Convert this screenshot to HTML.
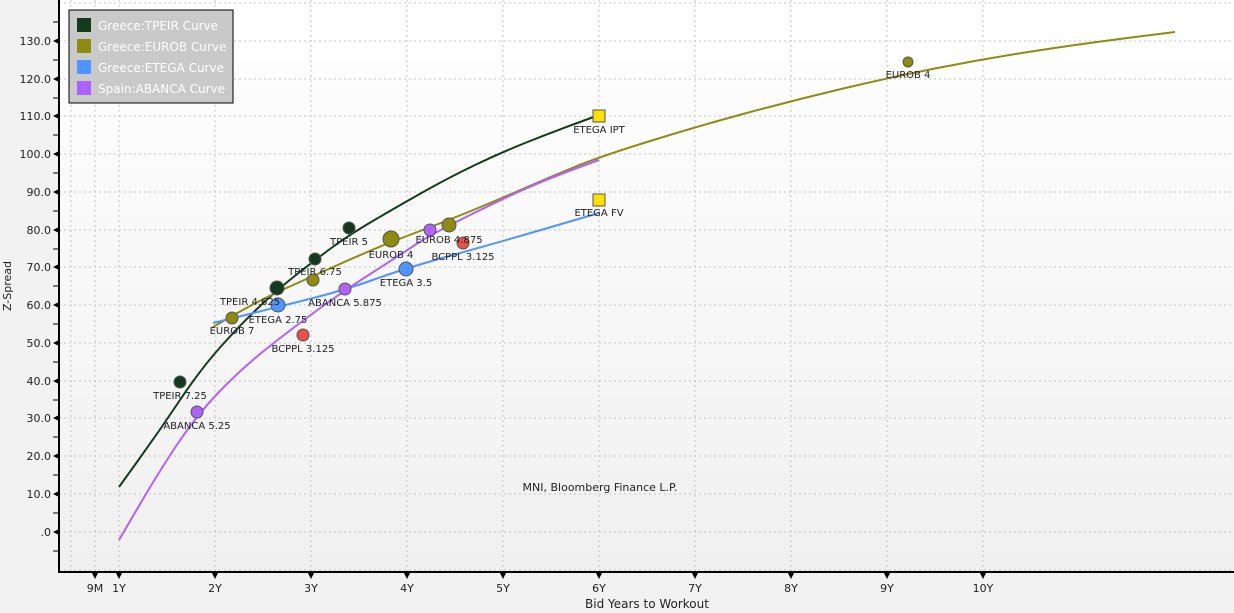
<!DOCTYPE html><html><head><style>body{margin:0;background:#f2f2f2}svg{display:block;font-family:"DejaVu Sans","Liberation Sans",sans-serif}</style></head><body>
<svg width="1234" height="613" viewBox="0 0 1234 613">
<defs><linearGradient id="g" x1="0" y1="0" x2="0" y2="1"><stop offset="0" stop-color="#ffffff"/><stop offset="1" stop-color="#f0f0f0"/></linearGradient></defs>
<rect width="1234" height="613" fill="#f2f2f2"/>
<rect x="59" y="0" width="1175" height="572" fill="url(#g)"/>
<g stroke="#c4c4c4" stroke-dasharray="2,3" stroke-width="1">
<line x1="59" y1="3" x2="1234" y2="3"/>
<line x1="59" y1="41" x2="1234" y2="41"/><line x1="59" y1="79" x2="1234" y2="79"/><line x1="59" y1="116" x2="1234" y2="116"/><line x1="59" y1="154" x2="1234" y2="154"/><line x1="59" y1="192" x2="1234" y2="192"/><line x1="59" y1="230" x2="1234" y2="230"/><line x1="59" y1="267" x2="1234" y2="267"/><line x1="59" y1="305" x2="1234" y2="305"/><line x1="59" y1="343" x2="1234" y2="343"/><line x1="59" y1="381" x2="1234" y2="381"/><line x1="59" y1="418" x2="1234" y2="418"/><line x1="59" y1="456" x2="1234" y2="456"/><line x1="59" y1="494" x2="1234" y2="494"/><line x1="59" y1="532" x2="1234" y2="532"/><line x1="59" y1="570" x2="1234" y2="570"/>
<line x1="71" y1="0" x2="71" y2="572"/><line x1="95" y1="0" x2="95" y2="572"/><line x1="119" y1="0" x2="119" y2="572"/><line x1="215" y1="0" x2="215" y2="572"/><line x1="311" y1="0" x2="311" y2="572"/><line x1="407" y1="0" x2="407" y2="572"/><line x1="503" y1="0" x2="503" y2="572"/><line x1="599" y1="0" x2="599" y2="572"/><line x1="695" y1="0" x2="695" y2="572"/><line x1="791" y1="0" x2="791" y2="572"/><line x1="887" y1="0" x2="887" y2="572"/><line x1="983" y1="0" x2="983" y2="572"/>
</g>
<g stroke="#000" stroke-width="2"><line x1="59" y1="0" x2="59" y2="573"/><line x1="58" y1="572" x2="1234" y2="572"/></g>
<g stroke="#000" stroke-width="1">
<line x1="53" y1="22" x2="59" y2="22"/><line x1="53" y1="60" x2="59" y2="60"/><line x1="53" y1="98" x2="59" y2="98"/><line x1="53" y1="135" x2="59" y2="135"/><line x1="53" y1="173" x2="59" y2="173"/><line x1="53" y1="211" x2="59" y2="211"/><line x1="53" y1="249" x2="59" y2="249"/><line x1="53" y1="286" x2="59" y2="286"/><line x1="53" y1="324" x2="59" y2="324"/><line x1="53" y1="362" x2="59" y2="362"/><line x1="53" y1="400" x2="59" y2="400"/><line x1="53" y1="437" x2="59" y2="437"/><line x1="53" y1="475" x2="59" y2="475"/><line x1="53" y1="513" x2="59" y2="513"/><line x1="53" y1="551" x2="59" y2="551"/>
</g>
<g fill="#000">
<path d="M53 41l6-3v6zM53 79l6-3v6zM53 116l6-3v6zM53 154l6-3v6zM53 192l6-3v6zM53 230l6-3v6zM53 267l6-3v6zM53 305l6-3v6zM53 343l6-3v6zM53 381l6-3v6zM53 418l6-3v6zM53 456l6-3v6zM53 494l6-3v6zM53 532l6-3v6z"/>
<path d="M95 579l-3-6h6zM119 579l-3-6h6zM215 579l-3-6h6zM311 579l-3-6h6zM407 579l-3-6h6zM503 579l-3-6h6zM599 579l-3-6h6zM695 579l-3-6h6zM791 579l-3-6h6zM887 579l-3-6h6zM983 579l-3-6h6z"/>
</g>
<g font-size="11" fill="#222" text-anchor="end">
<text x="51" y="45">130.0</text><text x="51" y="83">120.0</text><text x="51" y="120">110.0</text><text x="51" y="158">100.0</text><text x="51" y="196">90.0</text><text x="51" y="234">80.0</text><text x="51" y="271">70.0</text><text x="51" y="309">60.0</text><text x="51" y="347">50.0</text><text x="51" y="385">40.0</text><text x="51" y="422">30.0</text><text x="51" y="460">20.0</text><text x="51" y="498">10.0</text><text x="51" y="536">.0</text>
</g>
<g font-size="11" fill="#222" text-anchor="middle">
<text x="95" y="592">9M</text><text x="119" y="592">1Y</text><text x="215" y="592">2Y</text><text x="311" y="592">3Y</text><text x="407" y="592">4Y</text><text x="503" y="592">5Y</text><text x="599" y="592">6Y</text><text x="695" y="592">7Y</text><text x="791" y="592">8Y</text><text x="887" y="592">9Y</text><text x="983" y="592">10Y</text>
<text x="647" y="608" font-size="12">Bid Years to Workout</text>
<text x="600" y="491">MNI, Bloomberg Finance L.P.</text>
<text transform="translate(11,286) rotate(-90)" font-size="11">Z-Spread</text>
</g>
<g fill="none" stroke-width="2" stroke-linejoin="round">
<path stroke="#143a1e" d="M119,487 L139.5,458.5 Q160,430 180,400 Q200,370 220,347.5 Q240,325 258.5,307.5 Q277,290 296,275 Q315,260 332,247.5 Q349,235 374.5,220 Q400,205 425,191 Q450,177 475,165 Q500,153 525,143 Q550,133 574.5,124 L599,115"/>
<path stroke="#8f8a10" d="M213,327 L236.5,313.5 Q260,300 286.5,288 Q313,276 336.5,265.5 Q360,255 375.5,248.5 Q391,242 420,231 Q449,220 474.5,209.5 Q500,199 525,188 Q550,177 574.5,167 Q599,157 647,142 Q695,127 743,114 Q791,101 839,89.5 Q887,78 935,68.5 Q983,59 1031.5,51.5 Q1080,44 1127.5,38 L1175,32"/>
<path stroke="#4f94ff" d="M213,323 L245.5,315 Q278,307 311.5,298.5 Q345,290 375.5,279 Q406,268 453,255 Q500,242 549.5,227.5 L599,213"/>
<path stroke="#b062ff" d="M119,540 L139.5,505 Q160,470 178.5,442.5 Q197,415 218.5,392.5 Q240,370 265,350 Q290,330 317.5,310 Q345,290 372.5,272.5 Q400,255 415,245 Q430,235 465,217.5 Q500,200 525,189 Q550,178 574.5,169 L599,160"/>
</g>
<g stroke="#555" stroke-width="1">
<circle cx="180" cy="382" r="6" fill="#143a1e"/><circle cx="277" cy="288" r="7" fill="#143a1e"/><circle cx="315" cy="259" r="6" fill="#143a1e"/><circle cx="349" cy="228" r="6" fill="#143a1e"/>
<circle cx="232" cy="318" r="6" fill="#8f8a10"/><circle cx="313" cy="280" r="6" fill="#8f8a10"/><circle cx="391" cy="239" r="8" fill="#8f8a10"/><circle cx="449" cy="225" r="7" fill="#8f8a10"/><circle cx="908" cy="62" r="5" fill="#8f8a10"/>
<circle cx="278" cy="305" r="7" fill="#4f94ff"/><circle cx="406" cy="269" r="7" fill="#4f94ff"/>
<circle cx="197" cy="412" r="6" fill="#b062ff"/><circle cx="345" cy="289" r="6" fill="#b062ff"/><circle cx="430" cy="230" r="6" fill="#b062ff"/>
<circle cx="303" cy="335" r="6" fill="#e8504a"/><circle cx="463" cy="243" r="6" fill="#e8504a"/>
<rect x="593" y="110" width="12" height="12" fill="#ffe000"/><rect x="593" y="194" width="12" height="12" fill="#ffe000"/>
</g>
<g font-size="10" fill="#222" text-anchor="middle">
<text x="180" y="399">TPEIR 7.25</text><text x="250" y="305">TPEIR 4.625</text><text x="315" y="275">TPEIR 6.75</text><text x="349" y="245">TPEIR 5</text>
<text x="232" y="334">EUROB 7</text><text x="391" y="258">EUROB 4</text><text x="449" y="243">EUROB 4.875</text><text x="908" y="78">EUROB 4</text>
<text x="278" y="323">ETEGA 2.75</text><text x="406" y="286">ETEGA 3.5</text><text x="599" y="133">ETEGA IPT</text><text x="599" y="216">ETEGA FV</text>
<text x="197" y="429">ABANCA 5.25</text><text x="345" y="306">ABANCA 5.875</text>
<text x="303" y="352">BCPPL 3.125</text><text x="463" y="260">BCPPL 3.125</text>
</g>
<rect x="69" y="10" width="164" height="93" fill="#c9c9c9" stroke="#000" stroke-width="1"/>
<g font-size="12" fill="#fff">
<rect x="77" y="18" width="14" height="14" fill="#143a1e"/><text x="98" y="30">Greece:TPEIR Curve</text>
<rect x="77" y="39" width="14" height="14" fill="#8f8a10"/><text x="98" y="51">Greece:EUROB Curve</text>
<rect x="77" y="60" width="14" height="14" fill="#4f94ff"/><text x="98" y="72">Greece:ETEGA Curve</text>
<rect x="77" y="81" width="14" height="14" fill="#b062ff"/><text x="98" y="93">Spain:ABANCA Curve</text>
</g>
</svg></body></html>
